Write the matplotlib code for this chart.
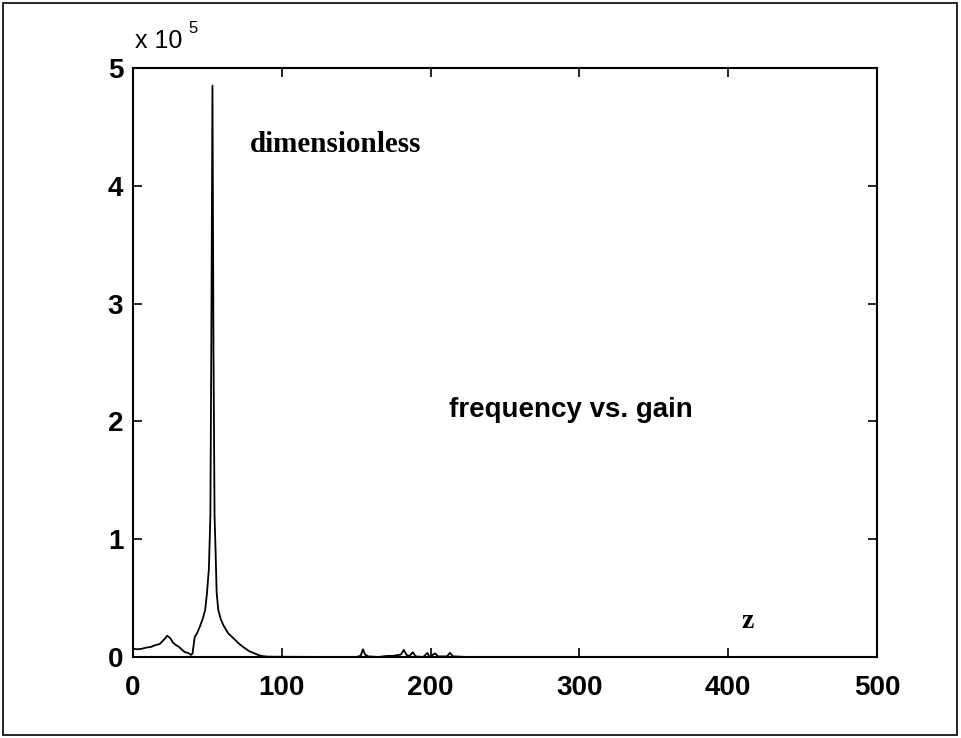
import numpy as np
import matplotlib
matplotlib.use("Agg")
import matplotlib.pyplot as plt
from matplotlib.patches import Rectangle

# frequency (x) and gain (y)
freq = [0, 3, 6, 9, 12, 15, 18, 21, 23, 25, 27, 29, 31, 33, 35, 37, 39, 40,
        41.5, 43, 45, 47, 48.5, 49.7, 51, 52, 52.6, 53.4, 54.1, 54.8, 55.5,
        56.2, 57.3, 59, 60.7, 64, 67.4, 71, 74, 78, 81, 84, 86.5, 90, 95,
        110, 150, 153, 154.5, 156, 158, 165, 170, 175, 180, 182, 184, 186,
        188, 190, 195, 198, 199, 203, 205, 211, 213, 215, 225, 300, 500]
gain = [7000, 6500, 7000, 8000, 8500, 10000, 11000, 15000, 18000, 16000,
        12000, 10000, 8500, 6000, 4000, 3500, 1700, 3000,
        17000, 20000, 26000, 33000, 40000, 54000, 75000, 120000, 258000,
        485000, 258000, 120000, 90000,
        55000, 40000, 32000, 27000, 20000, 16000, 11500, 8500, 5000, 3400,
        1800, 800, 300, 200,
        100, 0, 1000, 6500, 2000, 500, 0, 800, 1000, 2000, 6000, 1500, 1000,
        4000, 500, 0, 3500, 0, 3000, 500, 500, 3500, 500, 0, 0, 0]

xticks = [0, 100, 200, 300, 400, 500]
yticks = [0, 100000, 200000, 300000, 400000, 500000]
ytick_labels = ["0", "1", "2", "3", "4", "5"]

fig = plt.figure(figsize=(9.61, 7.38), dpi=100)
ax = fig.add_axes([0.1384, 0.1098, 0.7742, 0.7981])

ax.plot(freq, gain, color="black", lw=1.3)

ax.set_xlim(0, 500)
ax.set_ylim(0, 500000)
ax.set_xticks(xticks)
ax.set_yticks(yticks)
ax.set_yticklabels(ytick_labels)

ax.tick_params(direction="in", length=6.5, width=1.2, top=True, right=True,
               labelsize=20)
ax.tick_params(axis="x", pad=13)
ax.tick_params(axis="y", pad=7)
for lab in ax.get_xticklabels() + ax.get_yticklabels():
    lab.set_family("Liberation Sans")
    lab.set_weight("bold")
for s in ax.spines.values():
    s.set_linewidth(1.5)

# exponent label, matlab style
ax.text(0.003, 1.025, "x 10", transform=ax.transAxes, fontsize=18,
        family="Liberation Sans", ha="left", va="bottom")
ax.text(0.075, 1.054, "5", transform=ax.transAxes, fontsize=12,
        family="Liberation Sans", ha="left", va="bottom")

ax.text(136, 435000, "dimensionless", fontsize=21, family="Liberation Serif",
        weight="bold", ha="center", va="center")
ax.text(294, 210000, "frequency vs. gain", fontsize=20,
        family="Liberation Sans", weight="bold", ha="center", va="center")
ax.text(413, 30000, "z", fontsize=20, family="Liberation Serif",
        weight="bold", ha="center", va="center")

# outer frame round the whole figure
fig.patches.append(Rectangle((0.003, 0.004), 0.993, 0.992, transform=fig.transFigure,
                             fill=False, edgecolor="black", lw=1.2))

fig.savefig("out.png", dpi=100)
